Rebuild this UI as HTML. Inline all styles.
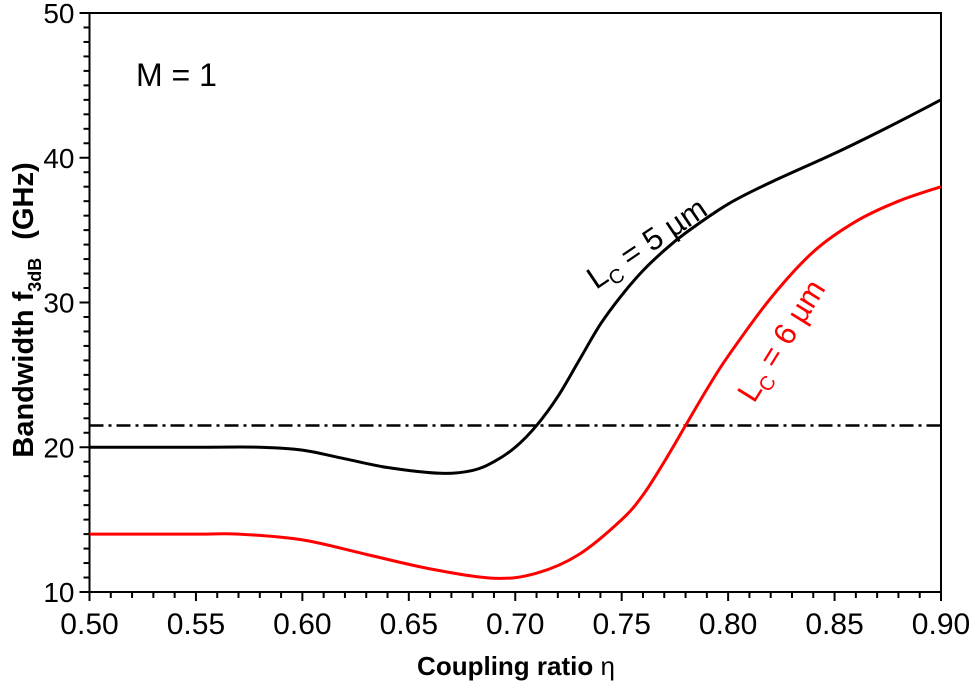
<!DOCTYPE html>
<html><head><meta charset="utf-8"><style>
body{margin:0;background:#fff}
svg text{font-family:"Liberation Sans",Arial,sans-serif}
</style></head><body>
<svg id="chart" width="971" height="687" viewBox="0 0 971 687" xmlns="http://www.w3.org/2000/svg">
<g id="axes"></g>
<g id="series"></g>
<text x="136" y="86" font-size="32">M = 1</text>
<text x="516" y="675" font-size="26" font-weight="bold" text-anchor="middle">Coupling ratio <tspan font-weight="normal">η</tspan></text>
<text transform="translate(33,310) rotate(-90)" font-size="29" font-weight="bold" text-anchor="middle">Bandwidth f<tspan font-size="18" dy="8">3dB</tspan><tspan dy="-8" dx="18">(GHz)</tspan></text>
<text transform="translate(596,290) rotate(-34)" font-size="31">L<tspan font-size="20" dy="7">C</tspan><tspan dy="-7"> = 5 µm</tspan></text>
<text transform="translate(754,404) rotate(-58)" font-size="31" fill="#ff0000">L<tspan font-size="20" dy="7">C</tspan><tspan dy="-7"> = 6 µm</tspan></text>
</svg>
<script>
const xBlack=[0.50,0.55,0.58,0.60,0.62,0.64,0.665,0.68,0.69,0.70,0.71,0.72,0.73,0.74,0.75,0.76,0.77,0.78,0.80,0.82,0.85,0.875,0.90];
const yBlack=[20,20,20,19.8,19.2,18.6,18.2,18.4,19,20,21.5,23.5,26,28.5,30.5,32.2,33.6,34.8,36.8,38.3,40.3,42.1,44];
const xRed=[0.50,0.55,0.57,0.60,0.63,0.66,0.69,0.71,0.73,0.75,0.76,0.77,0.78,0.79,0.80,0.82,0.84,0.86,0.88,0.90];
const yRed=[14,14,14,13.6,12.6,11.6,10.95,11.3,12.6,15,16.7,19,21.5,24,26.3,30.3,33.5,35.6,37,38];
const refLevel=[21.5];
const xTicks=["0.50","0.55","0.60","0.65","0.70","0.75","0.80","0.85","0.90"];
const yTicks=["10","20","30","40","50"];
const L=89.5,R=941,T=13,B=592;
const sx=v=>L+(v-0.5)/0.4*(R-L);
const sy=v=>B-(v-10)/40*(B-T);
const NS="http://www.w3.org/2000/svg";
function mk(tag,attrs,parent){const e=document.createElementNS(NS,tag);for(const k in attrs)e.setAttribute(k,attrs[k]);parent.appendChild(e);return e;}
const ax=document.getElementById('axes'),se=document.getElementById('series');
const frame=mk('rect',{x:L,y:T,width:R-L,height:B-T,fill:'none',stroke:'#000','stroke-width':2},ax);


for(let i=0;i<=40;i++){const v=0.5+i*0.01,x=sx(v),maj=i%5===0;
 const t=mk('line',{x1:x,x2:x,y1:B,y2:B+(maj?9:6),stroke:'#000','stroke-width':2},ax);
 
 }
xTicks.forEach(s=>{const t=mk('text',{x:sx(+s),y:B+42,'font-size':30,'text-anchor':'middle'},ax);t.textContent=s;
 
 });
for(let i=0;i<=40;i++){const v=10+i,y=sy(v),maj=i%10===0;
 const t=mk('line',{x1:L,x2:L-(maj?10:6),y1:y,y2:y,stroke:'#000','stroke-width':2},ax);
 
 }
yTicks.forEach(s=>{const t=mk('text',{x:L-15,y:sy(+s)+10,'font-size':28,'text-anchor':'end'},ax);t.textContent=s;
 
 });
function smooth(xs,ys){const p=xs.map((x,i)=>[sx(x),sy(ys[i])]);let d='M'+p[0][0]+','+p[0][1];
 for(let i=0;i<p.length-1;i++){const p0=p[i-1]||p[i],p1=p[i],p2=p[i+1],p3=p[i+2]||p2;
  d+=' C'+(p1[0]+(p2[0]-p0[0])/6)+','+(p1[1]+(p2[1]-p0[1])/6)+' '+(p2[0]-(p3[0]-p1[0])/6)+','+(p2[1]-(p3[1]-p1[1])/6)+' '+p2[0]+','+p2[1];}
 return d;}
const ref=mk('line',{x1:L,x2:R,y1:sy(refLevel[0]),y2:sy(refLevel[0]),stroke:'#000','stroke-width':2.5,'stroke-dasharray':'14,5,3,5'},se);


const lb=mk('path',{d:smooth(xBlack,yBlack),fill:'none',stroke:'#000','stroke-width':3},se);


const lr=mk('path',{d:smooth(xRed,yRed),fill:'none',stroke:'#ff0000','stroke-width':3},se);


</script>
</body></html>
